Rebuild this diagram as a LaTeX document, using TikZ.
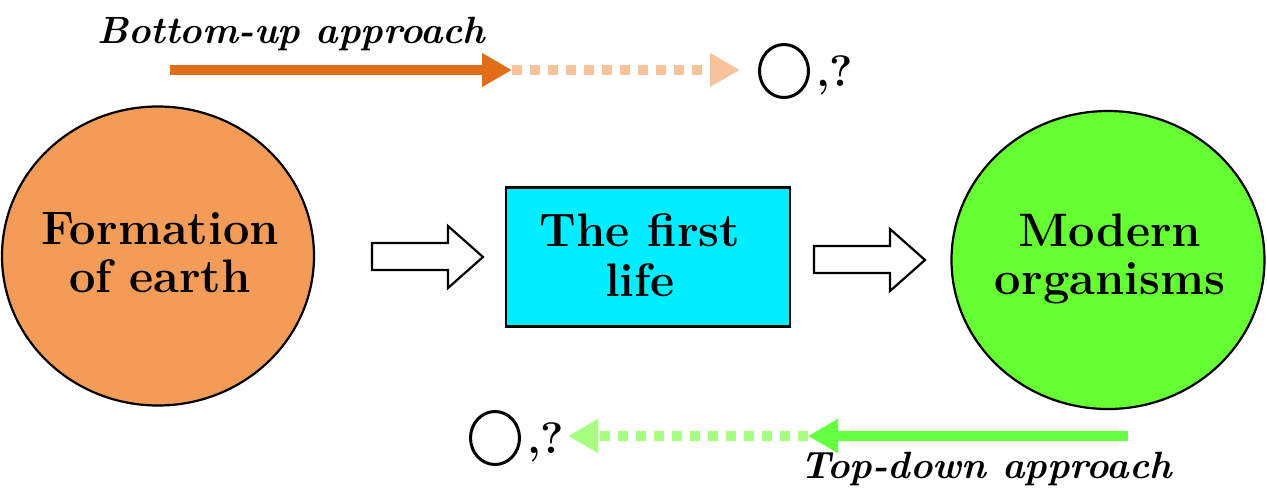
\documentclass[tikz,border=0pt]{standalone}
\usetikzlibrary{shapes.geometric,arrows.meta}
\definecolor{earthfill}{HTML}{F39C58}
\definecolor{lifefill}{HTML}{00EEFF}
\definecolor{modfill}{HTML}{66FF33}
\definecolor{buarrow}{HTML}{E26D17}
\definecolor{budash}{HTML}{F8C29A}
\definecolor{tdarrow}{HTML}{66FF44}
\definecolor{tddash}{HTML}{A6FF80}
\tikzset{
  bigtext/.style={font=\fontsize{47}{48}\selectfont\bfseries, align=center},
  boxtext/.style={font=\fontsize{47}{50}\selectfont\bfseries, align=center},
  captext/.style={font=\fontsize{38}{40}\selectfont\bfseries\itshape, inner sep=0pt},
  hollow/.style={draw=black, line width=2.2pt, fill=white},
  solidarr/.style={line width=10pt, -{Triangle[length=30pt,width=32pt]}},
  dasharr/.style={line width=10pt, dash pattern=on 10pt off 8pt, -{Triangle[length=30pt,width=32pt]}},
  ring/.style={ellipse, draw=black, line width=3pt, minimum width=49pt, minimum height=53pt, inner sep=0pt},
  qtext/.style={font=\fontsize{44}{46}\selectfont\bfseries, inner sep=0pt, anchor=base west}
}
\begin{document}
\begin{tikzpicture}[x=1pt,y=-1pt]
\useasboundingbox (0,0) rectangle (1267,493);
% main shapes
\node[ellipse, draw=black, line width=2.2pt, fill=earthfill, minimum width=312pt, minimum height=299pt] (earth) at (158,256) {};
\node[bigtext] (earthtxt) at (160,253) {Formation\\of earth};
\node[rectangle, draw=black, line width=2.4pt, fill=lifefill, minimum width=284pt, minimum height=139pt] (life) at (648,257) {};
\node[boxtext] (lifetxt) at (640,255) {The first\\life};
\node[ellipse, draw=black, line width=2.2pt, fill=modfill, minimum width=313pt, minimum height=298pt] (modern) at (1108,260) {};
\node[bigtext] (modtxt) at (1110,259) {Modern\\organisms};
% hollow arrows
\draw[hollow] (372,243) -- (448,243) -- (448,226) -- (483,257) -- (448,288) -- (448,270) -- (372,270) -- cycle;
\draw[hollow] (814,246) -- (890,246) -- (890,229) -- (925,260) -- (890,291) -- (890,273) -- (814,273) -- cycle;
% bottom-up
\node[captext, anchor=base west] (butxt) at (97,43) {Bottom-up approach};
\coordinate (bu0) at (170,70);
\coordinate (bu1) at (512,70);
\coordinate (bu2) at (740,70);
\draw[buarrow, solidarr] (bu0) -- (bu1);
\draw[budash, dasharr] (bu1) -- (bu2);
\node[ring] (ring1) at (784,71) {};
\node[qtext] (q1) at (816,86) {,?};
% top-down
\coordinate (td0) at (1128,436);
\coordinate (td1) at (808,436);
\coordinate (td2) at (568,436);
\draw[tdarrow, solidarr] (td0) -- (td1);
\draw[tddash, dasharr] (td1) -- (td2);
\node[ring] (ring2) at (495,438) {};
\node[qtext] (q2) at (527,453) {,?};
\node[captext, anchor=base west] (tdtxt) at (800,478) {Top-down approach};
\end{tikzpicture}
\end{document}
